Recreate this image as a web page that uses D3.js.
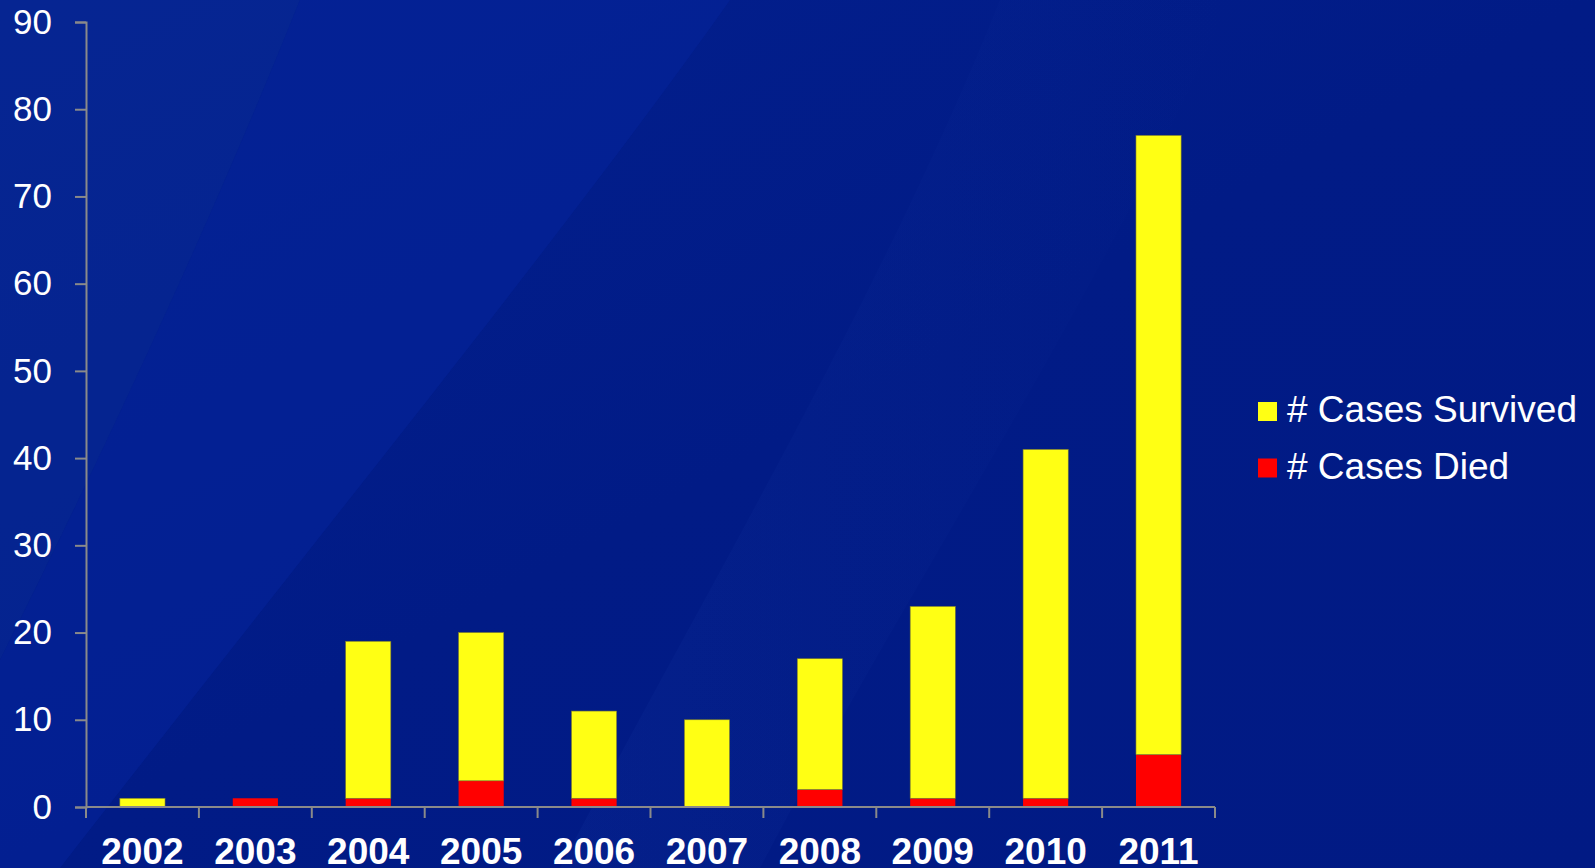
<!DOCTYPE html>
<html>
<head>
<meta charset="utf-8">
<script src="https://cdn.jsdelivr.net/npm/d3@7"></script>
<style>
  html, body { margin: 0; padding: 0; background: #011a85; overflow: hidden; }
  svg { display: block; font-family: Arial, "Liberation Sans", sans-serif; }
</style>
</head>
<body>
<svg id="chart" width="1595" height="868"></svg>
<script>
const years = ["2002", "2003", "2004", "2005", "2006", "2007", "2008", "2009", "2010", "2011"]
const died = [0, 1, 1, 3, 1, 0, 2, 1, 1, 6]
const survived = [1, 0, 18, 17, 10, 10, 15, 22, 40, 71]
const yTicks = [0, 10, 20, 30, 40, 50, 60, 70, 80, 90]
const seriesNames = ["# Cases Survived", "# Cases Died"]

const svgEl = document.getElementById("chart")
const width = +svgEl.getAttribute("width")
const height = +svgEl.getAttribute("height")
const svg = d3.select("#chart")

const plotLeft = 86, plotRight = 1215, plotTop = 22, plotBottom = 807
const axisColor = "#8a8a8a"
const yellow = "#ffff14"
const red = "#ff0000"

// sfondo con le sfumature diagonali
const defs = svg.append("defs")
const grad = defs.append("linearGradient").attr("id", "bg")
  .attr("x1", "0").attr("y1", "0").attr("x2", "1").attr("y2", "1")
grad.append("stop").attr("offset", "0").attr("stop-color", "#03208f")
grad.append("stop").attr("offset", "0.5").attr("stop-color", "#011b86")
grad.append("stop").attr("offset", "1").attr("stop-color", "#011a84")
svg.append("rect").attr("width", width).attr("height", height).attr("fill", "url(#bg)")

const streak = defs.append("linearGradient").attr("id", "streak")
  .attr("x1", "0").attr("y1", "0").attr("x2", "1").attr("y2", "0")
streak.append("stop").attr("offset", "0").attr("stop-color", "#1a3da8").attr("stop-opacity", 0.35)
streak.append("stop").attr("offset", "1").attr("stop-color", "#1a3da8").attr("stop-opacity", 0)

svg.append("path")
  .attr("d", "M0,0 L300,0 C220,200 120,420 0,660 Z")
  .attr("fill", "#0a2a95").attr("opacity", 0.55)
svg.append("path")
  .attr("d", "M300,0 L730,0 C560,240 330,520 60,868 L0,868 L0,660 C120,420 220,200 300,0 Z")
  .attr("fill", "#05239a").attr("opacity", 0.6)
svg.append("path")
  .attr("d", "M1000,0 L1230,0 C1100,300 900,600 760,868 L560,868 C700,600 880,300 1000,0 Z")
  .attr("fill", "url(#streak)").attr("opacity", 0.4)

// scale
const x = d3.scaleBand().domain(years).range([plotLeft, plotRight])
  .paddingInner(0.6).paddingOuter(0.3)
const y = d3.scaleLinear().domain([0, 90]).range([plotBottom, plotTop])
const step = x.step()

// barre impilate
const bars = svg.append("g")
bars.selectAll("rect.died")
  .data(years).enter()
  .append("rect")
  .attr("class", "died")
  .attr("fill", red)
  .attr("x", d => x(d))
  .attr("width", x.bandwidth())
  .attr("y", (d, i) => y(died[i]))
  .attr("height", (d, i) => y(0) - y(died[i]))

bars.selectAll("rect.surv")
  .data(years).enter()
  .append("rect")
  .attr("class", "surv")
  .attr("fill", yellow)
  .attr("stroke", "#7a7a30").attr("stroke-width", 0.6)
  .attr("x", d => x(d))
  .attr("width", x.bandwidth())
  .attr("y", (d, i) => y(died[i] + survived[i]))
  .attr("height", (d, i) => y(died[i]) - y(died[i] + survived[i]))
  .filter((d, i) => survived[i] === 0).remove()

// asse y
const yAxis = svg.append("g")
  .attr("transform", `translate(${plotLeft},0)`)
  .call(d3.axisLeft(y).tickValues(yTicks).tickSize(11).tickPadding(23).tickFormat(d3.format("d")))
yAxis.selectAll("path, line").attr("stroke", axisColor).attr("stroke-width", 2)
yAxis.selectAll("text").attr("fill", "#ffffff").attr("font-size", "35px")
  .attr("font-family", "Arial, 'Liberation Sans', sans-serif")

// asse x: linea, tacche ai bordi delle categorie, etichette al centro
const xAxis = svg.append("g").attr("transform", `translate(0,${plotBottom})`)
xAxis.append("line").attr("x1", plotLeft).attr("x2", plotRight)
  .attr("stroke", axisColor).attr("stroke-width", 2)
const bounds = years.map(d => x(d) + x.bandwidth() / 2 - step / 2).concat([plotRight])
xAxis.selectAll("line.tick").data(bounds).enter()
  .append("line").attr("class", "tick")
  .attr("x1", d => d).attr("x2", d => d).attr("y1", 0).attr("y2", 11)
  .attr("stroke", axisColor).attr("stroke-width", 2)
xAxis.selectAll("text").data(years).enter()
  .append("text")
  .attr("x", d => x(d) + x.bandwidth() / 2)
  .attr("y", 57)
  .attr("text-anchor", "middle")
  .attr("fill", "#ffffff")
  .attr("font-size", "37px").attr("font-weight", "bold")
  .text(d => d)

// legenda
const legend = svg.append("g").attr("transform", "translate(1258,402)")
const legColors = [yellow, red]
seriesNames.forEach((name, i) => {
  legend.append("rect").attr("x", 0).attr("y", i * 56.5).attr("width", 19).attr("height", 19)
    .attr("fill", legColors[i])
  legend.append("text").attr("x", 29).attr("y", i * 56.5 + 20)
    .attr("fill", "#ffffff").attr("font-size", "37px")
    .text(name)
})
</script>
</body>
</html>
